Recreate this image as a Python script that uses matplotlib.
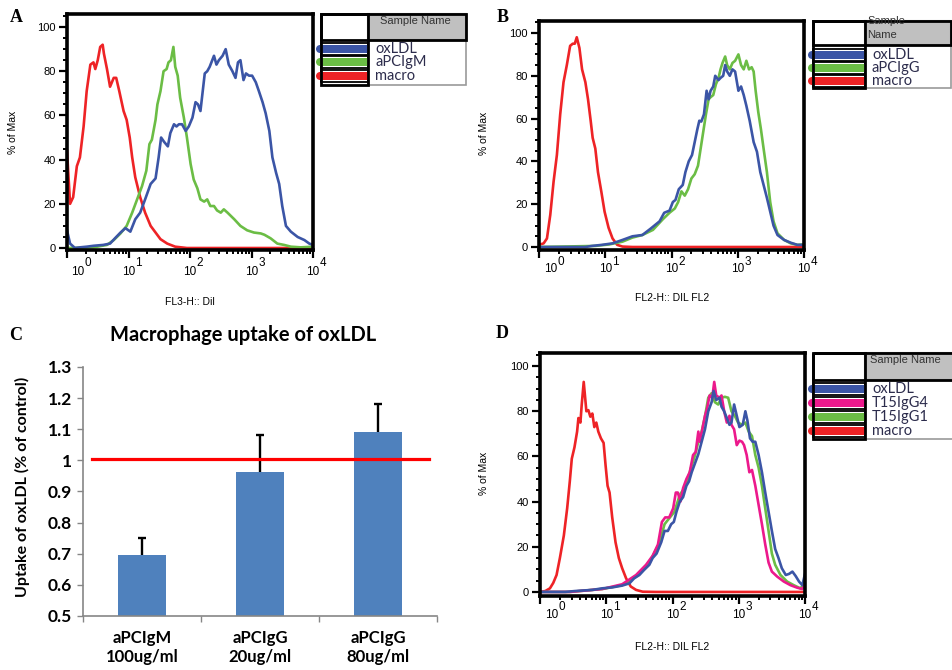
import numpy as np
import matplotlib
matplotlib.use("Agg")
import matplotlib.pyplot as plt
from matplotlib.patches import Rectangle, Circle
from matplotlib.ticker import MultipleLocator, LogLocator, NullFormatter

plt.rcParams['font.family'] = ['Liberation Sans', 'DejaVu Sans']

### data: x in log10(fluorescence), y in % of Max

# panel A
a_red_x = [0.00,0.05,0.10,0.16,0.21,0.27,0.32,0.38,0.43,0.46,0.50,0.54,0.58,0.60,0.65,0.70,0.76,0.80,0.85,0.92,0.97,1.02,1.06,1.11,1.19,1.27,1.36,1.44,1.52,1.63,1.76,1.95,4.00]
a_red_y = [44,20,23,37,41,55,71,83,84,81,85,91,92,88,81,73,77,77,71,62,58,50,41,32,23,16,10,7,4,2,0.6,0,0]
a_grn_x = [0.00,0.43,0.65,0.76,0.87,0.97,1.06,1.14,1.22,1.29,1.34,1.38,1.44,1.47,1.52,1.57,1.62,1.65,1.69,1.73,1.76,1.80,1.84,1.90,1.95,2.01,2.06,2.12,2.17,2.23,2.28,2.33,2.39,2.44,2.50,2.55,2.61,2.72,2.82,2.93,3.04,3.15,3.21,3.31,3.42,3.53,3.64,3.80,4.00]
a_grn_y = [0,0.3,1.4,3.6,6.6,10,16,22,28,35,47,49,58,65,71,80,81,84,85,91,82,78,68,59,50,38,31,27,22,21,22,19,19,17,16,17.5,16,13,10,8,7,6.6,6,4.4,2,1.4,0.6,0.3,0.6]
a_blu_x = [0.00,0.05,0.13,0.21,0.32,0.43,0.59,0.70,0.78,0.87,0.95,1.03,1.11,1.19,1.27,1.36,1.44,1.49,1.53,1.58,1.64,1.68,1.74,1.78,1.82,1.87,1.93,1.98,2.04,2.09,2.13,2.17,2.24,2.28,2.32,2.39,2.43,2.47,2.53,2.58,2.63,2.69,2.74,2.78,2.82,2.87,2.91,2.96,3.01,3.07,3.12,3.18,3.23,3.29,3.34,3.40,3.45,3.50,3.56,3.64,3.75,3.86,3.94,4.00]
a_blu_y = [8,2,0,0.3,0.6,1,1.4,2,4.4,7,9,7.4,13,16,22,29,31.5,41,50,48,46,52,56,55,56,56,53,55,59,66,65,62,79,80,82,87,83,85,87,90,83,80,77,84,85,76,79,78,78,75,71,66,61,53,41,34,29,19,10,7.4,5,3.6,2,1.4]
a_names = ['oxLDL', 'aPCIgM', 'macro']

# panel B
b_red_x = [0.00,0.07,0.12,0.17,0.22,0.27,0.32,0.37,0.42,0.47,0.51,0.54,0.57,0.61,0.65,0.70,0.74,0.78,0.81,0.85,0.89,0.94,0.99,1.05,1.11,1.18,1.26,1.41,4.00]
b_red_y = [1,1.7,4,15,30.5,43,62,77,85,94,95,95,98,93,83,77,69,59,51,46,35,26,16.5,9,4,1,0.2,0,0]
b_grn_x = [0.00,0.85,1.06,1.26,1.41,1.56,1.72,1.87,1.97,2.05,2.10,2.15,2.20,2.25,2.30,2.35,2.40,2.44,2.48,2.52,2.56,2.59,2.63,2.67,2.71,2.74,2.77,2.81,2.84,2.88,2.92,2.96,3.01,3.05,3.09,3.13,3.17,3.21,3.24,3.27,3.31,3.35,3.39,3.44,3.49,3.54,3.60,3.70,3.80,3.90,4.00]
b_grn_y = [0,0.5,1.2,2.5,4.4,5.6,8,13,16,18,21,26,24,27,32,34,38,46,54,62,69,70,71,76,79,83,86,89,85,83,86,87,90,85,83,87,83,84,82,73,63,55,46,35,21,12,6.4,3.3,1.7,1,1.2]
b_blu_x = [0.00,0.70,0.80,0.95,1.11,1.26,1.41,1.56,1.69,1.82,1.89,1.97,2.02,2.06,2.11,2.17,2.21,2.26,2.31,2.35,2.39,2.42,2.45,2.49,2.53,2.56,2.59,2.63,2.66,2.71,2.74,2.78,2.81,2.84,2.88,2.92,2.96,3.01,3.05,3.09,3.13,3.18,3.24,3.29,3.34,3.39,3.44,3.49,3.54,3.60,3.70,3.80,3.90,4.00]
b_blu_y = [0,0,0.5,1,1.7,3.3,5,5.6,8.7,12,16,17,21,22,27,29,35,40,43,49,55,59,58.6,62,73,69,73,75,80,78,79,80,85,82,80,83,82,73,75,71,66,59,49,44.5,35,29,23,16.5,10,5.6,3.3,2,1,1]
b_names = ['oxLDL', 'aPCIgG', 'macro']

# panel C
c_labels = ['aPCIgM\n100ug/ml', 'aPCIgG\n20ug/ml', 'aPCIgG\n80ug/ml']
c_values = [0.695, 0.962, 1.092]
c_err = [0.055, 0.12, 0.088]
c_ref = 1.005
c_yticks = [0.5, 0.6, 0.7, 0.8, 0.9, 1.0, 1.1, 1.2, 1.3]

# panel D
d_red_x = [0.00,0.08,0.15,0.20,0.25,0.30,0.36,0.41,0.45,0.48,0.52,0.56,0.58,0.61,0.63,0.66,0.70,0.73,0.76,0.79,0.82,0.85,0.88,0.92,0.96,0.99,1.02,1.05,1.09,1.14,1.19,1.24,1.30,1.37,1.45,1.55,1.75,4.00]
d_red_y = [0,0.4,1.6,4,7.5,15,25,37,49,59,64,71,77,75,83,93,80,80.5,77.6,79,73,75,71,68,66,56,47,44,33,22,15,10.5,6,2.4,0.9,0.1,0,0]
d_grn_x = [0.00,0.45,0.94,1.24,1.45,1.65,1.80,1.88,1.95,2.03,2.11,2.18,2.23,2.28,2.34,2.39,2.44,2.49,2.54,2.59,2.64,2.69,2.74,2.79,2.84,2.89,2.94,2.99,3.05,3.10,3.15,3.20,3.25,3.30,3.35,3.40,3.45,3.50,3.55,3.63,3.73,3.83,3.93,4.00]
d_grn_y = [0,0,1.3,3,6.8,13,21.5,30,32.6,35.5,43,46,50,55,60.6,66.5,71,77.6,86,88,84,83,86,86.4,86,80,78,75,74,75,71,69,60.6,55,47,37,27,17,12,7.5,4.6,3,1.6,3.8]
d_mag_x = [0.00,0.45,0.94,1.24,1.45,1.60,1.70,1.78,1.84,1.89,1.95,2.01,2.05,2.08,2.12,2.16,2.21,2.26,2.31,2.35,2.39,2.41,2.45,2.49,2.52,2.56,2.60,2.63,2.66,2.71,2.74,2.78,2.82,2.86,2.89,2.93,2.97,3.01,3.05,3.08,3.12,3.16,3.20,3.25,3.30,3.35,3.40,3.45,3.50,3.58,3.68,3.78,3.88,3.96,4.00]
d_mag_y = [0,0,1.3,3.4,7.5,12,16,21,31,33,33,37,44,44,40,46,50,53,60.6,62,71,66.5,72,78,81,87,86,93,87,86,87,80,75,78,74,72,65,67,66.5,65,60.6,53,54,47,38.5,30,21,13,9,6.8,4.6,3,1.9,1.3,3.4]
d_blu_x = [0.00,0.38,0.53,0.79,0.94,1.09,1.24,1.35,1.42,1.50,1.57,1.65,1.70,1.76,1.83,1.88,1.93,1.98,2.02,2.06,2.11,2.16,2.21,2.25,2.29,2.34,2.39,2.44,2.49,2.54,2.59,2.62,2.66,2.71,2.74,2.78,2.82,2.86,2.89,2.93,2.97,3.01,3.06,3.10,3.13,3.17,3.21,3.25,3.30,3.35,3.40,3.45,3.50,3.55,3.60,3.65,3.71,3.76,3.81,3.86,3.91,3.96,4.00]
d_blu_y = [0,0,0.4,0.9,1.6,2,2.8,3.8,6,7.5,9.7,12,15,17,22,27,27,30,31,35.5,40,42,47,49,53,57,61,66.5,72,80,84,89,85,86,82,80,77,74,75,83,78,73,74,80,76,68,66.5,66.5,60.6,53,44,35.5,27,19,15,10.5,7.5,8,9,7,4.6,3,8]
d_names = ['oxLDL', 'T15IgG4', 'T15IgG1', 'macro']

BLUE = '#3b55a6'
GREEN = '#6bbd45'
RED = '#ee2326'
MAGENTA = '#ec198c'

W, H = 952, 670
fig = plt.figure(figsize=(W / 100, H / 100), dpi=100)


def fig_rect(l, t, r, b):
    return [l / W, 1 - b / H, (r - l) / W, (b - t) / H]


def flow_panel(rect, ylim, series, lab_dy, sup_dy, shift0):
    ax = fig.add_axes(fig_rect(*rect))
    for xs, ys, col in series:
        ax.plot(np.power(10.0, xs), ys, color=col, lw=1.9, solid_joinstyle='round')
    ax.set_xscale('log')
    ax.set_xlim(1, 1e4)
    ax.set_ylim(*ylim)
    for s in ax.spines.values():
        s.set_linewidth(2.6)
    ax.set_yticks(range(0, 101, 20))
    ax.yaxis.set_minor_locator(MultipleLocator(5))
    ax.set_xticks([10.0 ** k for k in range(5)])
    ax.xaxis.set_minor_locator(LogLocator(base=10, subs=np.arange(2, 10), numticks=20))
    ax.xaxis.set_major_formatter(NullFormatter())
    ax.xaxis.set_minor_formatter(NullFormatter())
    ax.tick_params(which='major', length=6, width=1.6, direction='out')
    ax.tick_params(which='minor', length=3, width=1.4, direction='out')
    ax.tick_params(axis='y', labelsize=8, pad=2)
    for k in range(5):
        dx = shift0 if k == 0 else 0
        ax.annotate('10', xy=(10.0 ** k, 0), xycoords=('data', 'axes fraction'),
                    xytext=(dx, -lab_dy), textcoords='offset pixels',
                    ha='center', va='center', fontsize=8.5, annotation_clip=False)
        ax.annotate(str(k), xy=(10.0 ** k, 0), xycoords=('data', 'axes fraction'),
                    xytext=(dx + 10, -sup_dy), textcoords='offset pixels',
                    ha='center', va='center', fontsize=8.5, annotation_clip=False)
    return ax


# A
flow_panel((67, 14, 313, 250), (-0.9, 105.9),
           [(a_red_x, a_red_y, RED), (a_grn_x, a_grn_y, GREEN), (a_blu_x, a_blu_y, BLUE)],
           22, 13, 11)
# B
flow_panel((539, 21, 804, 250), (-1.4, 105.6),
           [(b_red_x, b_red_y, RED), (b_grn_x, b_grn_y, GREEN), (b_blu_x, b_blu_y, BLUE)],
           19, 12, 12)
# D
flow_panel((540, 353, 805, 596), (-1.8, 105.8),
           [(d_red_x, d_red_y, RED), (d_grn_x, d_grn_y, GREEN), (d_mag_x, d_mag_y, MAGENTA),
            (d_blu_x, d_blu_y, BLUE)],
           19, 11, 12)

# C bar chart
axc = fig.add_axes(fig_rect(83, 367, 437, 616))
pos = np.arange(len(c_values))
axc.bar(pos, c_values, width=0.4, color='#4f81bd', zorder=2)
eb = axc.errorbar(pos, c_values, yerr=[np.zeros(len(c_err)), c_err], fmt='none',
                  ecolor='black', elinewidth=1.7, capsize=2.8, capthick=1.7, zorder=3)
eb[1][0].set_visible(False)  # only the upper cap
axc.axhline(c_ref, xmin=0.025, xmax=0.977, color='#ff0000', lw=2.3, zorder=4)
axc.set_xlim(-0.5, len(c_values) - 0.5)
axc.set_ylim(c_yticks[0], c_yticks[-1])
axc.set_yticks(c_yticks)
axc.set_yticklabels(['{:g}'.format(v) for v in c_yticks], fontfamily='Lato',
                    fontweight='bold', fontsize=12.5)
axc.set_xticks(pos)
axc.set_xticklabels(c_labels, fontfamily='Lato', fontweight='bold', fontsize=12,
                    linespacing=1.25)
axc.set_xticks(np.arange(len(c_values) + 1) - 0.5, minor=True)
axc.tick_params(axis='x', which='major', length=0, pad=10)
axc.tick_params(axis='x', which='minor', length=4, color='#868686', width=1)
axc.tick_params(axis='y', length=4, color='#868686', width=1, pad=4)
for side in ['top', 'right']:
    axc.spines[side].set_visible(False)
for side in ['left', 'bottom']:
    axc.spines[side].set_color('#868686')
    axc.spines[side].set_linewidth(1.2)

# overlay in pixel coordinates for labels and the FlowJo legends
ov = fig.add_axes([0, 0, 1, 1], zorder=10)
ov.set_xlim(0, W)
ov.set_ylim(H, 0)
ov.axis('off')


def legend_box(x0, y0, x1, y1, xs, yh, rows_y, names, colors, header, hx, hy, ha):
    ov.add_patch(Rectangle((x0, y0), x1 - x0, y1 - y0, fc='white', ec='none'))
    hdr = Rectangle((xs, y0), x1 - xs, yh - y0, fc='#c0c0c0', ec='#8a8a8a', lw=1.5)
    ov.add_patch(hdr)
    ov.add_patch(Rectangle((xs, yh), x1 - xs, y1 - yh, fc='white', ec='#9a9a9a', lw=1.2))
    t = ov.text(hx, hy, header, ha=ha, va='center', fontsize=8, color='#333333',
                linespacing=1.6)
    t.set_clip_path(hdr)
    for ry, name, col in zip(rows_y, names, colors):
        ov.add_patch(Rectangle((x0, ry - 6), xs - x0, 12, fc='white', ec='black', lw=1.3))
        ov.add_patch(Rectangle((x0 - 1, ry - 4), xs - x0 + 1, 8, fc=col, ec='none'))
        ov.add_patch(Circle((x0 - 1, ry), 4, fc=col, ec='none'))
        ov.text(xs + 7, ry, name, ha='left', va='center', fontsize=10.5,
                fontfamily='Lato', color='#2c2c4c')
    ov.add_patch(Rectangle((x0, y0), xs - x0, y1 - y0, fill=False, ec='black', lw=2))
    ov.add_patch(Rectangle((x0, y0), x1 - x0, yh - y0, fill=False, ec='black', lw=2))


legend_box(321, 14, 466, 85, 368, 40, [49, 62, 76], a_names, [BLUE, GREEN, RED],
           'Sample Name', 415, 21, 'center')
legend_box(813, 21, 951, 88, 865, 45, [55, 68, 81], b_names, [BLUE, GREEN, RED],
           'Sample\nName', 867, 28, 'left')
legend_box(813, 353, 955, 439, 865, 380, [389, 403, 417, 431], d_names,
           [BLUE, MAGENTA, GREEN, RED], 'Sample Name', 870, 360, 'left')

# axis titles of the flow panels
ov.text(13, 132, '% of Max', rotation=90, ha='center', va='center', fontsize=7.5)
ov.text(484, 133, '% of Max', rotation=90, ha='center', va='center', fontsize=7.5)
ov.text(484, 473, '% of Max', rotation=90, ha='center', va='center', fontsize=7.5)
ov.text(190, 302, 'FL3-H:: Dil', ha='center', va='center', fontsize=7.5)
ov.text(672, 298, 'FL2-H:: DIL FL2', ha='center', va='center', fontsize=7.5)
ov.text(672, 647, 'FL2-H:: DIL FL2', ha='center', va='center', fontsize=7.5)

# panel C titles
ov.text(243, 335, 'Macrophage uptake of oxLDL', ha='center', va='center',
        fontsize=14.5, fontweight='bold', fontfamily='Lato')
ov.text(22, 487, 'Uptake of oxLDL (% of control)', rotation=90, ha='center',
        va='center', fontsize=11.5, fontweight='bold', fontfamily='Lato')

# panel letters
for letter, lx, ly in [('A', 16, 18), ('B', 503, 18), ('C', 16, 335), ('D', 502, 333)]:
    ov.text(lx, ly, letter, ha='center', va='center', fontsize=13, fontweight='bold',
            fontfamily='Liberation Serif')

fig.savefig('out.png', dpi=100)
